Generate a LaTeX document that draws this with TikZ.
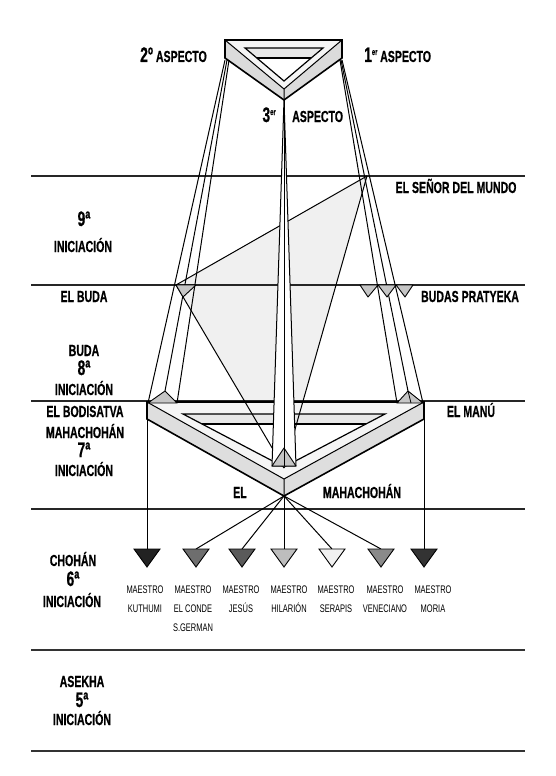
\documentclass[tikz,border=0pt]{standalone}
\usepackage{fontspec}
\setmainfont{Liberation Sans}
\newfontfamily\labf[FakeStretch=0.66, BoldFeatures={FakeBold=0.6}]{Liberation Sans}
\newfontfamily\mastf[FakeStretch=0.68]{Liberation Sans}
\newcommand\digbig{\fontsize{21}{21}\selectfont}
\newcommand\supsmall[1]{\raisebox{7pt}{\fontsize{9}{9}\selectfont #1}}
\definecolor{cK}{HTML}{222222}
\definecolor{cC}{HTML}{6E6E6E}
\definecolor{cJ}{HTML}{5A5A5A}
\definecolor{cH}{HTML}{BDBDBD}
\definecolor{cS}{HTML}{F0F0F0}
\definecolor{cV}{HTML}{8A8A8A}
\definecolor{cM}{HTML}{333333}
\tikzset{
  sep/.style={line width=1.4pt, draw=black!85},
  septhick/.style={line width=2.2pt, draw=black!80},
  ray/.style={line width=1pt, line join=round},
  frameout/.style={line width=1.6pt, line join=miter},
  frameln/.style={line width=1pt},
  tipfill/.style={fill=gray!45, draw=black, line width=0.9pt, line join=round},
  mast/.style={draw=black, line width=0.9pt, line join=miter},
  lab/.style={font=\labf\bfseries\fontsize{16}{16}\selectfont, inner sep=0pt, anchor=base, text height=11.5pt, text depth=0pt},
  digl/.style={lab, text height=15pt},
  mlab/.style={font=\mastf\fontsize{11}{11}\selectfont, inner sep=0pt, anchor=base, text height=8pt, text depth=0pt},
}
\begin{document}
\begin{tikzpicture}[x=1pt,y=-1pt]
\useasboundingbox (0,0) rectangle (555,776);

% key points
\coordinate (EB) at (176,285);
\coordinate (SM) at (367,176);
\coordinate (MT) at (284,468);

% shaded triangle
\begin{scope}
  \clip (0,0) rectangle (555,402);
  \fill[gray!12] (EB) -- (SM) -- (MT) -- cycle;
\end{scope}

% separators
\foreach \y/\n in {176/a,285/b,401/c,509/d} {
  \coordinate (sl\n) at (31,\y);
  \coordinate (sr\n) at (525,\y);
  \draw[sep] (sl\n) -- (sr\n);
}
\foreach \y/\n in {650/e,751/f} {
  \coordinate (sl\n) at (31,\y);
  \coordinate (sr\n) at (525,\y);
  \draw[septhick] (sl\n) -- (sr\n);
}

% ---------- top triangle ----------
\coordinate (TL) at (225,40);
\coordinate (TR) at (342,40);
\coordinate (TRb) at (342,58);
\coordinate (TA) at (284,100);
\coordinate (TLb) at (225,58);
\coordinate (TRi) at (284,89);
\coordinate (IL) at (245,48);
\coordinate (IR) at (323,48);
\coordinate (IA) at (284,81);
\coordinate (IBL) at (257,58);
\coordinate (IBR) at (311,58);
\fill[gray!8] (TL) -- (TR) -- (TRi) -- cycle;
\fill[gray!28] (TL) -- (TRi) -- (TA) -- (TLb) -- cycle;
\fill[gray!28] (TR) -- (TRb) -- (TA) -- (TRi) -- cycle;
\fill[white] (IL) -- (IR) -- (IA) -- cycle;
\fill[gray!18] (IL) -- (IR) -- (IBR) -- (IBL) -- cycle;
\draw[frameln] (TL) -- (TRi) -- (TR) (TRi) -- (TA);
\draw[line width=1.2pt, line join=miter] (IL) -- (IR) -- (IA) -- cycle;
\draw[line width=2pt] (IBL) -- (IBR);
\draw[frameout] (TL) -- (TR) -- (TRb) -- (TA) -- (TLb) -- cycle;

% ---------- bottom frame ----------
\coordinate (BTL) at (147,402);
\coordinate (BTR) at (424,402);
\coordinate (BTRb) at (424,419);
\coordinate (BA) at (284,496);
\coordinate (BTLb) at (147,419);
\coordinate (BRi) at (284,479);
\coordinate (BIL) at (183,414);
\coordinate (BIR) at (385,414);
\coordinate (BIA) at (284,467);
\coordinate (BBL) at (202,424);
\coordinate (BBR) at (366,424);
\fill[gray!8] (BTL) -- (BTR) -- (BRi) -- cycle;
\fill[gray!26] (BTL) -- (BRi) -- (BA) -- (BTLb) -- cycle;
\fill[gray!26] (BTR) -- (BTRb) -- (BA) -- (BRi) -- cycle;
\fill[white] (BIL) -- (BIR) -- (BIA) -- cycle;
\fill[gray!18] (BIL) -- (BIR) -- (BBR) -- (BBL) -- cycle;
\draw[frameln] (BTL) -- (BRi) -- (BTR) (BRi) -- (BA);
\draw[line width=1.2pt, line join=miter] (BIL) -- (BIR) -- (BIA) -- cycle;
\draw[line width=2pt] (BBL) -- (BBR);
\draw[frameout] (BTL) -- (BTR) -- (BTRb) -- (BA) -- (BTLb) -- cycle;

% ---------- left beam ----------
\coordinate (LS1) at (225,60);
\coordinate (LS2) at (227,60);
\coordinate (LS3) at (229,60);
\coordinate (BdL) at (148,403);
\coordinate (BdA) at (165,391);
\coordinate (BdR) at (177,403);
\draw[ray] (LS1) -- (BdL);
\draw[ray] (LS2) -- (BdA);
\draw[ray] (LS3) -- (BdR);

% ---------- right beam ----------
\coordinate (RS1) at (340,60);
\coordinate (RS2) at (341,60);
\coordinate (RS3) at (342,60);
\coordinate (MnL) at (397,403);
\coordinate (MnA) at (408,391);
\coordinate (MnR) at (423,403);
\coordinate (MnM) at (411,403);
\draw[ray] (RS1) -- (MnL);
\draw[ray] (RS2) -- (MnA);
\draw[ray] (RS3) -- (MnR);

% ---------- shading edges ----------
\draw[ray] (EB) -- (SM);
\draw[ray] (EB) -- (MT);
\draw[ray] (SM) -- (MT);

% ---------- centre beam ----------
\coordinate (CL) at (272,466);
\coordinate (CR) at (296,466);
\coordinate (CP) at (284,448);
\coordinate (CPb) at (284,466);
\filldraw[fill=white, ray] (TA) -- (CL) -- (CR) -- cycle;
\draw[ray] (TA) -- (CP);

% ---------- pyramid tips ----------
\filldraw[tipfill] (CL) -- (CP) -- (CR) -- cycle;
\draw[line width=0.8pt] (CP) -- (CPb);
\filldraw[tipfill] (BdL) -- (BdA) -- (BdR) -- cycle;
\filldraw[tipfill] (MnL) -- (MnA) -- (MnR) -- cycle;
\draw[line width=0.8pt] (MnA) -- (MnM);
% el buda
\coordinate (EB2) at (196,285);
\coordinate (EB3) at (183,297);
\filldraw[tipfill] (EB) -- (EB2) -- (EB3) -- cycle;
% budas pratyeka
\foreach \a/\b/\c/\n in {360/378/368/p1, 378/396/387/p2, 396/413/405/p3} {
  \coordinate (\n l) at (\a,285);
  \coordinate (\n r) at (\b,285);
  \coordinate (\n a) at (\c,297);
  \filldraw[tipfill] (\n l) -- (\n r) -- (\n a) -- cycle;
}

% ---------- masters ----------
\foreach \x/\n in {147/k, 196/c, 242/j, 284/h, 332/s, 381/v, 424/m} {
  \coordinate (M\n l) at (\x-13,549);
  \coordinate (M\n r) at (\x+13,549);
  \coordinate (M\n t) at (\x,549);
  \coordinate (M\n a) at (\x,567);
}
\draw[ray] (BTLb) -- (Mkt);
\draw[ray] (BTRb) -- (Mmt);
\foreach \n in {c,j,h,s,v} { \draw[ray] (BA) -- (M\n t); }
\foreach \n/\c in {k/cK, c/cC, j/cJ, h/cH, s/cS, v/cV, m/cM} {
  \filldraw[mast, fill=\c] (M\n l) -- (M\n r) -- (M\n a) -- cycle;
}

% master labels
\node[mlab] (lk1) at (145,593) {MAESTRO};
\node[mlab] (lk2) at (145,612) {KUTHUMI};
\node[mlab] (lc1) at (193,593) {MAESTRO};
\node[mlab] (lc2) at (193,612) {EL CONDE};
\node[mlab] (lc3) at (193,631) {S.GERMAN};
\node[mlab] (lj1) at (241,593) {MAESTRO};
\node[mlab] (lj2) at (241,612) {JESÚS};
\node[mlab] (lh1) at (289,593) {MAESTRO};
\node[mlab] (lh2) at (289,612) {HILARIÓN};
\node[mlab] (ls1) at (336,593) {MAESTRO};
\node[mlab] (ls2) at (336,612) {SERAPIS};
\node[mlab] (lv1) at (385,593) {MAESTRO};
\node[mlab] (lv2) at (385,612) {VENECIANO};
\node[mlab] (lm1) at (433,593) {MAESTRO};
\node[mlab] (lm2) at (433,612) {MORIA};

% ---------- labels ----------
\node[digl, anchor=base east] (asp2) at (207,62) {{\digbig 2º} ASPECTO};
\node[digl, anchor=base west] (asp1) at (364,62) {{\digbig 1}\supsmall{er}\,ASPECTO};
\node[digl, anchor=base east] (asp3a) at (276,122) {{\digbig 3}\supsmall{er}};
\node[lab, anchor=base west] (asp3b) at (292,122) {ASPECTO};

\node[lab] (senor) at (456,193) {EL SEÑOR DEL MUNDO};
\node[digl] (i9a) at (84,226) {\digbig 9ª};
\node[lab] (i9b) at (83,252) {INICIACIÓN};
\node[lab] (buda) at (84,302) {EL BUDA};
\node[lab] (prat) at (470,302) {BUDAS PRATYEKA};
\node[lab] (i8a) at (84,356) {BUDA};
\node[digl] (i8b) at (84,375) {\digbig 8ª};
\node[lab] (i8c) at (84,395) {INICIACIÓN};
\node[lab] (bodi) at (85,417) {EL BODISATVA};
\node[lab] (manu) at (471,417) {EL MANÚ};
\node[lab] (i7a) at (85,438) {MAHACHOHÁN};
\node[digl] (i7b) at (84,457) {\digbig 7ª};
\node[lab] (i7c) at (84,476) {INICIACIÓN};
\node[lab] (mel) at (240,498) {EL};
\node[lab] (mmc) at (362,498) {MAHACHOHÁN};
\node[lab] (i6a) at (73,566) {CHOHÁN};
\node[digl] (i6b) at (73,586) {\digbig 6ª};
\node[lab] (i6c) at (72,607) {INICIACIÓN};
\node[lab] (i5a) at (82,687) {ASEKHA};
\node[digl] (i5b) at (82,707) {\digbig 5ª};
\node[lab] (i5c) at (82,725) {INICIACIÓN};
\end{tikzpicture}
\end{document}
